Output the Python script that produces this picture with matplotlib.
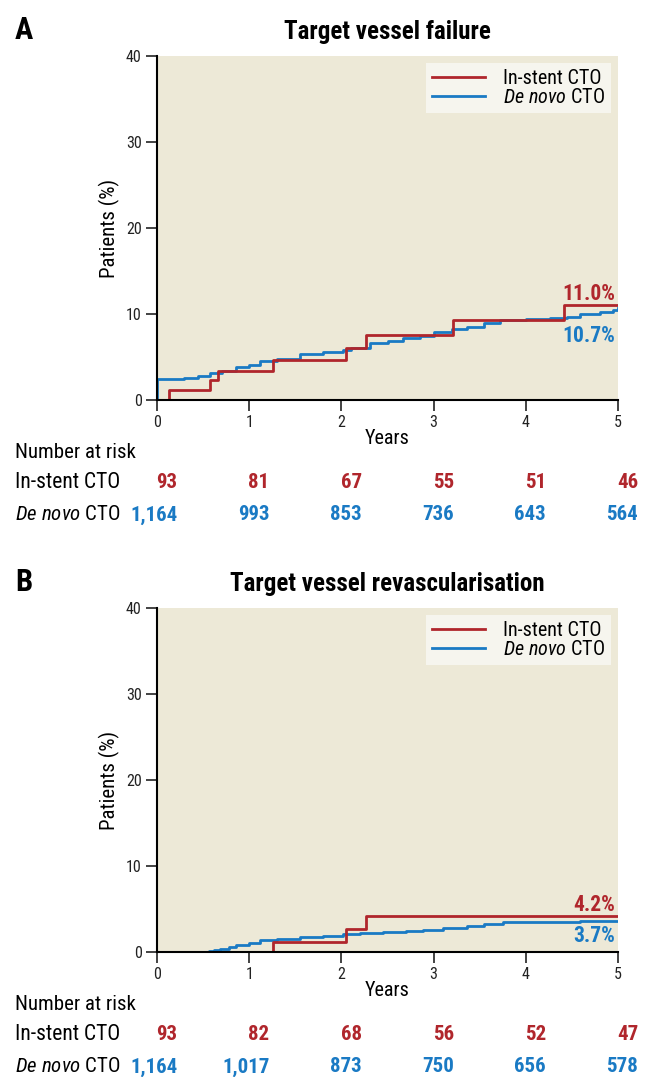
import matplotlib
matplotlib.use('Agg')
import matplotlib.pyplot as plt
from matplotlib import font_manager as fm


def wnum(w):
    if isinstance(w, str):
        return {'ultralight': 200, 'light': 300, 'normal': 400, 'regular': 400, 'book': 400,
                'medium': 500, 'semibold': 600, 'demibold': 600, 'bold': 700,
                'heavy': 800, 'extra bold': 800, 'black': 900}.get(w, 400)
    return int(w)


faces = {}
for f in fm.fontManager.ttflist:
    faces.setdefault(f.name, []).append(f)


def complete(name):
    fs = faces.get(name, [])
    reg = any(f.style == 'normal' and wnum(f.weight) == 400 for f in fs)
    bold = any(f.style == 'normal' and wnum(f.weight) >= 700 for f in fs)
    ital = any(f.style == 'italic' and wnum(f.weight) == 400 for f in fs)
    return reg and bold and ital


FONT = None
for cand in ['Roboto Condensed', 'Liberation Sans Narrow', 'Noto Sans Condensed',
             'Open Sans Condensed', 'Inter Condensed', 'DejaVu Sans Condensed']:
    if complete(cand):
        FONT = cand
        break
if FONT is None:
    for n in sorted(faces):
        ln = n.lower()
        if ('condensed' in ln or 'narrow' in ln) and 'semi' not in ln and 'extra' not in ln \
                and complete(n):
            FONT = n
            break
k = 1.0
if FONT is None:
    FONT = 'DejaVu Sans'
    k = 0.8

plt.rcParams['font.family'] = [FONT, 'DejaVu Sans']
plt.rcParams['mathtext.fontset'] = 'custom'
plt.rcParams['mathtext.rm'] = FONT
plt.rcParams['mathtext.it'] = FONT + ':italic'

RED = '#B0262C'
BLUE = '#1A7AC4'
BG = '#EDE9D7'

# panel A - target vessel failure
tvf_instent_t = [0, 0.13, 0.575, 0.66, 1.26, 2.05, 2.27, 3.21, 4.41, 5.0]
tvf_instent_v = [0, 1.16, 2.3, 3.4, 4.65, 6.1, 7.6, 9.3, 11.0, 11.0]
tvf_denovo_t = [0, 0.003, 0.15, 0.29, 0.45, 0.58, 0.7, 0.86, 1.0, 1.12, 1.3, 1.55, 1.8,
                2.02, 2.1, 2.31, 2.5, 2.67, 2.85, 3.0, 3.2, 3.36, 3.55, 3.72, 4.0,
                4.26, 4.45, 4.59, 4.8, 4.95, 5.0]
tvf_denovo_v = [0, 2.4, 2.5, 2.6, 2.8, 3.1, 3.4, 3.8, 4.1, 4.5, 4.8, 5.3, 5.6,
                5.8, 6.0, 6.6, 6.9, 7.2, 7.5, 7.9, 8.2, 8.5, 8.9, 9.3, 9.4,
                9.5, 9.7, 9.95, 10.2, 10.5, 10.7]

# panel B - target vessel revascularisation
tvr_instent_t = [0, 1.26, 2.05, 2.27, 5.0]
tvr_instent_v = [0, 1.2, 2.65, 4.2, 4.2]
tvr_denovo_t = [0, 0.56, 0.62, 0.68, 0.78, 0.86, 1.0, 1.12, 1.3, 1.55, 1.8, 2.02,
                2.2, 2.45, 2.7, 2.89, 3.1, 3.36, 3.55, 3.75, 4.2, 4.59, 5.0]
tvr_denovo_v = [0, 0.1, 0.2, 0.35, 0.6, 0.8, 1.1, 1.4, 1.5, 1.7, 1.9, 2.05,
                2.2, 2.35, 2.45, 2.56, 2.8, 3.0, 3.25, 3.45, 3.5, 3.57, 3.65]

years = [0, 1, 2, 3, 4, 5]
tvf_risk_instent = ['93', '81', '67', '55', '51', '46']
tvf_risk_denovo = ['1,164', '993', '853', '736', '643', '564']
tvr_risk_instent = ['93', '82', '68', '56', '52', '47']
tvr_risk_denovo = ['1,164', '1,017', '873', '750', '656', '578']

panels = [
    ('A', 'Target vessel failure', tvf_instent_t, tvf_instent_v, tvf_denovo_t, tvf_denovo_v,
     '11.0%', '10.7%', tvf_risk_instent, tvf_risk_denovo),
    ('B', 'Target vessel revascularisation', tvr_instent_t, tvr_instent_v, tvr_denovo_t, tvr_denovo_v,
     '4.2%', '3.7%', tvr_risk_instent, tvr_risk_denovo),
]

fig = plt.figure(figsize=(6.52, 10.77), dpi=100)
W, H = 652.0, 1077.0
axes_top = [56, 608]
axes_h = 344
fy = lambda py: 1 - py / H

denovo_lab = r'$\it{De\ novo}$ CTO'

for i, (letter, title, rt, rv, bt, bv, rlab, blab, rrisk, brisk) in enumerate(panels):
    top = axes_top[i]
    ax = fig.add_axes([157 / W, 1 - (top + axes_h) / H, 461 / W, axes_h / H])
    ax.set_facecolor(BG)
    ax.step(bt, bv, where='post', color=BLUE, lw=2, label=denovo_lab)
    ax.step(rt, rv, where='post', color=RED, lw=2, label='In-stent CTO')
    ax.set_xlim(0, 5)
    ax.set_ylim(0, 40)
    ax.set_xticks(years)
    ax.set_yticks([0, 10, 20, 30, 40])
    for s in ['top', 'right']:
        ax.spines[s].set_visible(False)
    ax.spines['left'].set_linewidth(1.5)
    ax.spines['bottom'].set_linewidth(1.5)
    ax.tick_params(length=8, width=1.2, pad=3, labelsize=11.5 * k, colors='#222222')
    ax.set_ylabel('Patients (%)', fontsize=15 * k, labelpad=4)
    ax.set_xlabel('Years', fontsize=14.5 * k, labelpad=-1)
    ax.set_title(title, fontsize=18 * k, fontweight='bold', pad=12)

    h, l = ax.get_legend_handles_labels()
    leg = ax.legend(h[::-1], l[::-1], loc='upper right', fontsize=14.5 * k, frameon=True,
                    fancybox=False, handlelength=2.6, borderaxespad=0.35,
                    handletextpad=0.9, labelspacing=0.0, borderpad=0.3)
    leg.get_frame().set_facecolor('#F6F5EE')
    leg.get_frame().set_edgecolor('none')
    leg.get_frame().set_alpha(1)

    ax.text(4.97, rv[-1] + 1.3, rlab, color=RED, fontsize=15.5 * k, fontweight='bold',
            ha='right', va='center')
    ax.text(4.97, bv[-1] - (3.2 if i == 0 else 1.8), blab, color=BLUE,
            fontsize=15.5 * k, fontweight='bold', ha='right', va='center')

    fig.text(15 / W, fy(top - 26), letter, fontsize=22 * k, fontweight='bold', va='center')

    base = top + axes_h
    fig.text(15 / W, fy(base + 52), 'Number at risk', fontsize=15 * k, va='center')
    fig.text(15 / W, fy(base + 83), 'In-stent CTO', fontsize=15.5 * k, va='center')
    fig.text(15 / W, fy(base + 115), denovo_lab, fontsize=15 * k, va='center')
    for yr, a, b in zip(years, rrisk, brisk):
        ax.text(yr + 0.22, (-83) / axes_h, a, transform=ax.get_xaxis_transform(),
                color=RED, fontsize=15 * k, fontweight='bold', ha='right', va='center',
                clip_on=False)
        ax.text(yr + 0.22, (-115) / axes_h, b, transform=ax.get_xaxis_transform(),
                color=BLUE, fontsize=15 * k, fontweight='bold', ha='right', va='center',
                clip_on=False)

fig.savefig('out.png', dpi=100)
